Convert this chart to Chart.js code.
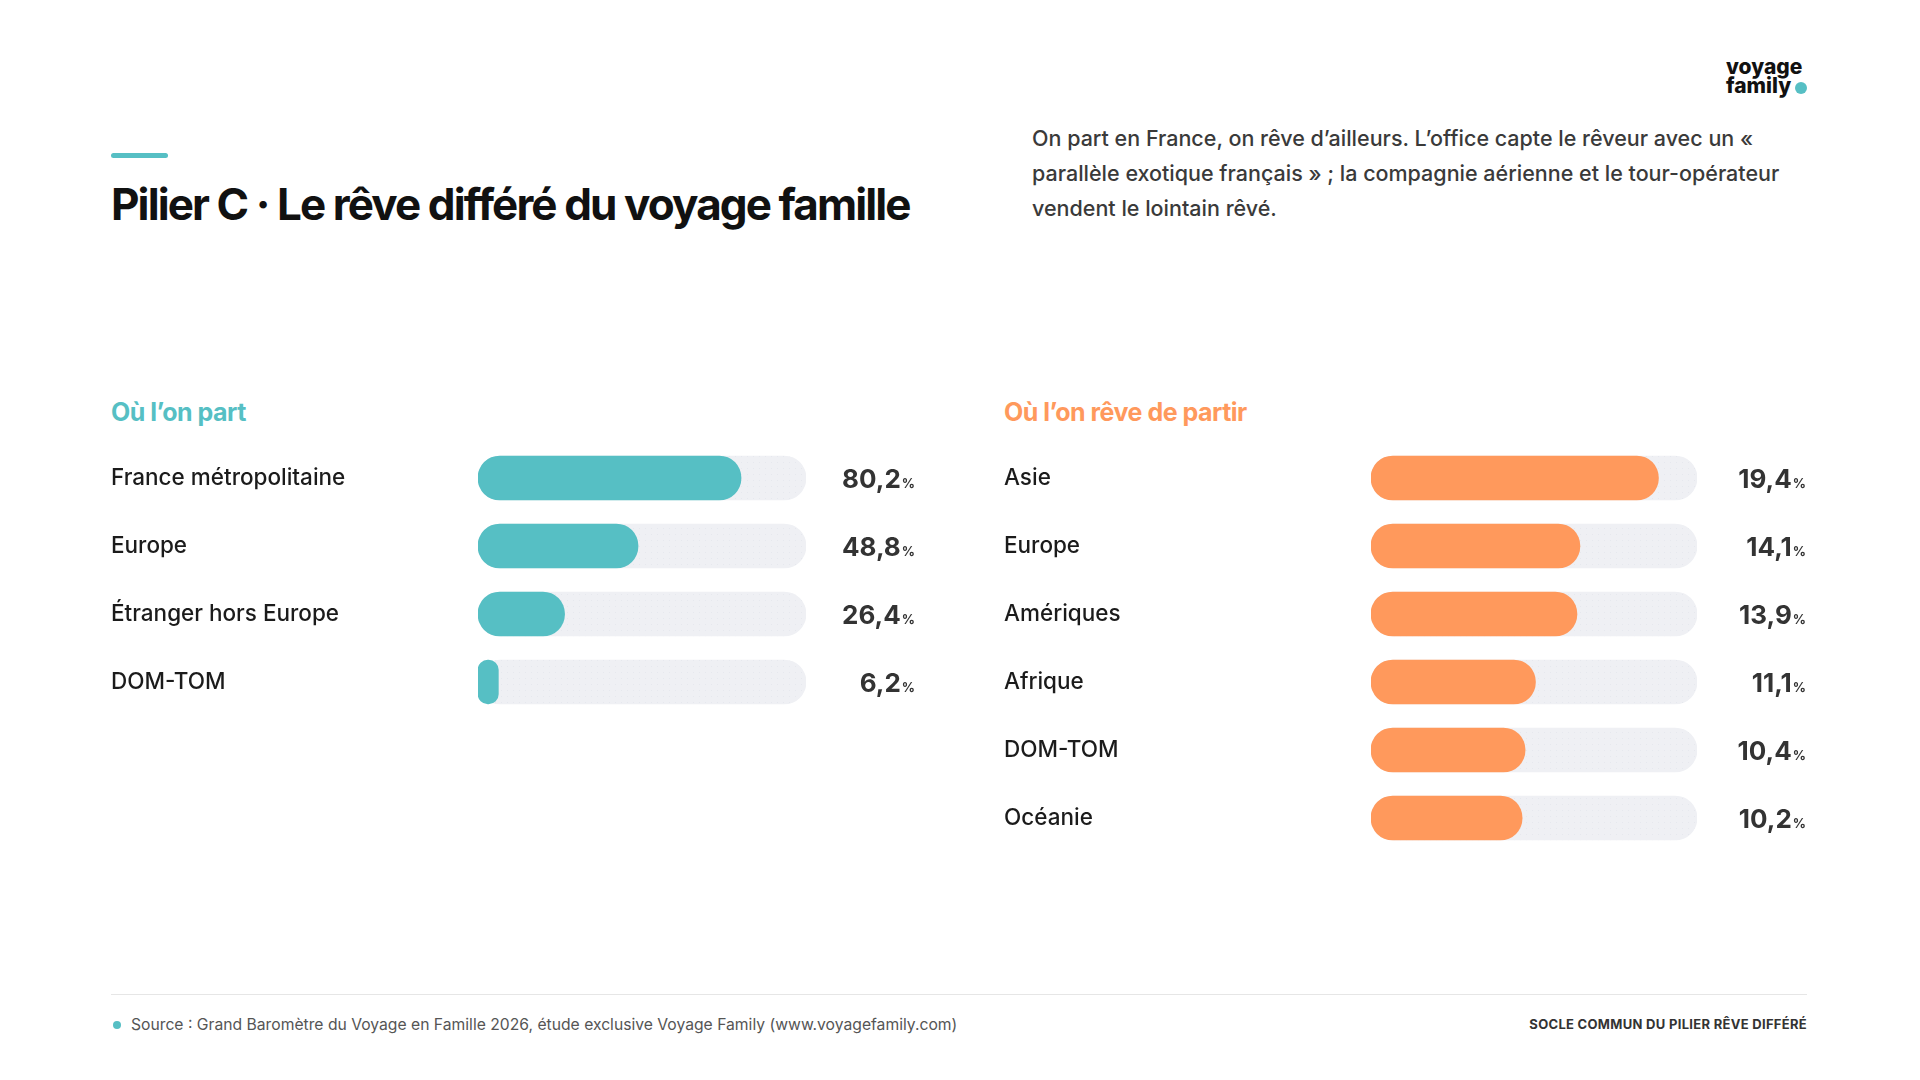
<!DOCTYPE html>
<html lang="fr">
<head>
<meta charset="utf-8">
<script src="https://cdn.jsdelivr.net/npm/chart.js@4/dist/chart.umd.min.js"></script>
<style>
  html, body { margin: 0; padding: 0; background: #fff; }
  body { width: 1920px; height: 1080px; position: relative; font-family: Inter, "Noto Sans", sans-serif; color: #1b1b1b; overflow: hidden; }
  .accent { position: absolute; left: 111px; top: 153px; width: 57px; height: 5px; border-radius: 3px; background: #56bfc4; }
  h1 { position: absolute; left: 111px; top: 176px; margin: 0; font-size: 44px; font-weight: 700; letter-spacing: -1.9px; line-height: 56px; color: #111; }
  .intro { position: absolute; left: 1032px; top: 121px; margin: 0; font-size: 21.5px; font-weight: 500; line-height: 35px; color: #3a3a3a; }
  .logo { position: absolute; left: 1726px; top: 57px; font-size: 21px; font-weight: 800; line-height: 19px; letter-spacing: 0px; color: #111; }
  .logo-dot { position: absolute; left: 1795px; top: 82px; width: 12px; height: 12px; border-radius: 50%; background: #56bfc4; }
  .sec { position: absolute; top: 397px; margin: 0; font-size: 25px; font-weight: 700; letter-spacing: -0.5px; }
  .sec.left { left: 111px; color: #56bfc4; }
  .sec.right { left: 1004px; color: #ff995c; }
  .wrap { position: absolute; top: 444px; }
  #wrapLeft { left: 111px; width: 805px; height: 272px; }
  #wrapRight { left: 1004px; width: 803px; height: 408px; }
  .rule { position: absolute; left: 111px; top: 994px; width: 1696px; height: 1px; background: #e6e6e6; }
  .source { position: absolute; left: 113px; top: 1015px; font-size: 15.7px; color: #555; }
  .source::before { content: ""; display: inline-block; width: 8px; height: 8px; border-radius: 50%; background: #56bfc4; margin-right: 10px; vertical-align: 1px; }
  .tag { position: absolute; right: 113px; top: 1016px; font-size: 13px; font-weight: 700; letter-spacing: 0.3px; color: #333; }
</style>
</head>
<body>
<div class="accent"></div>
<h1>Pilier C · Le rêve différé du voyage famille</h1>
<p class="intro">On part en France, on rêve d’ailleurs. L’office capte le rêveur avec un «<br>parallèle exotique français » ; la compagnie aérienne et le tour-opérateur<br>vendent le lointain rêvé.</p>
<div class="logo">voyage<br>family</div>
<div class="logo-dot"></div>
<h2 class="sec left">Où l’on part</h2>
<h2 class="sec right">Où l’on rêve de partir</h2>
<div class="wrap" id="wrapLeft"><canvas id="leftChart"></canvas></div>
<div class="wrap" id="wrapRight"><canvas id="rightChart"></canvas></div>
<div class="rule"></div>
<div class="source">Source : Grand Baromètre du Voyage en Famille 2026, étude exclusive Voyage Family (www.voyagefamily.com)</div>
<div class="tag">SOCLE COMMUN DU PILIER RÊVE DIFFÉRÉ</div>
<script>
const departLabels = ['France métropolitaine', 'Europe', 'Étranger hors Europe', 'DOM-TOM'];
const departValues = [80.2, 48.8, 26.4, 6.2];
const departMax = 100;

const dreamLabels = ['Asie', 'Europe', 'Amériques', 'Afrique', 'DOM-TOM', 'Océanie'];
const dreamValues = [19.4, 14.1, 13.9, 11.1, 10.4, 10.2];
const dreamMax = 22;

// light dotted track fill
function trackPattern() {
  const c = document.createElement('canvas');
  c.width = 6; c.height = 6;
  const g = c.getContext('2d');
  g.fillStyle = '#eff0f4';
  g.fillRect(0, 0, 6, 6);
  g.fillStyle = '#e6e8ee';
  g.fillRect(0, 0, 1, 1);
  return g.createPattern(c, 'repeat');
}

// value at the right end of each row, with a small "%"
const valueLabels = {
  id: 'valueLabels',
  afterDatasetsDraw(chart) {
    const ctx = chart.ctx;
    const meta = chart.getDatasetMeta(0);
    const right = chart.width - 1;
    ctx.save();
    ctx.textBaseline = 'alphabetic';
    ctx.textAlign = 'right';
    ctx.fillStyle = '#333';
    meta.data.forEach((bar, i) => {
      const txt = chart.data.datasets[0].data[i].toFixed(1).replace('.', ',');
      ctx.font = '700 13px Inter';
      const pw = ctx.measureText('%').width;
      ctx.fillText('%', right, bar.y + 9.5);
      ctx.font = '700 26px Inter';
      ctx.fillText(txt, right - pw - 1, bar.y + 9.5);
    });
    ctx.restore();
  }
};

function makeChart(id, labels, values, max, color) {
  return new Chart(document.getElementById(id), {
    type: 'bar',
    data: {
      labels,
      datasets: [{
        data: values,
        backgroundColor: color,
        borderRadius: 22,
        borderSkipped: false,
        barThickness: 44,
        order: 1
      }, {
        data: labels.map(() => max),
        backgroundColor: trackPattern(),
        borderRadius: 22,
        borderSkipped: false,
        barThickness: 44,
        order: 2
      }]
    },
    options: {
      indexAxis: 'y',
      responsive: true,
      maintainAspectRatio: false,
      animation: false,
      grouped: false,
      layout: { padding: { right: 110 } },
      plugins: { legend: { display: false }, tooltip: { enabled: false } },
      scales: {
        x: { min: 0, max, display: false },
        y: {
          grid: { display: false },
          border: { display: false },
          ticks: { crossAlign: 'far', color: '#1b1b1b', font: { family: 'Inter', size: 22.5, weight: '500' } },
          afterFit(scale) {
            scale.width = 367;
            scale.paddingTop = 0;
            scale.paddingBottom = 0;
          }
        }
      }
    },
    plugins: [valueLabels]
  });
}

makeChart('leftChart', departLabels, departValues, departMax, '#56bfc4');
makeChart('rightChart', dreamLabels, dreamValues, dreamMax, '#ff995c');
</script>
</body>
</html>
